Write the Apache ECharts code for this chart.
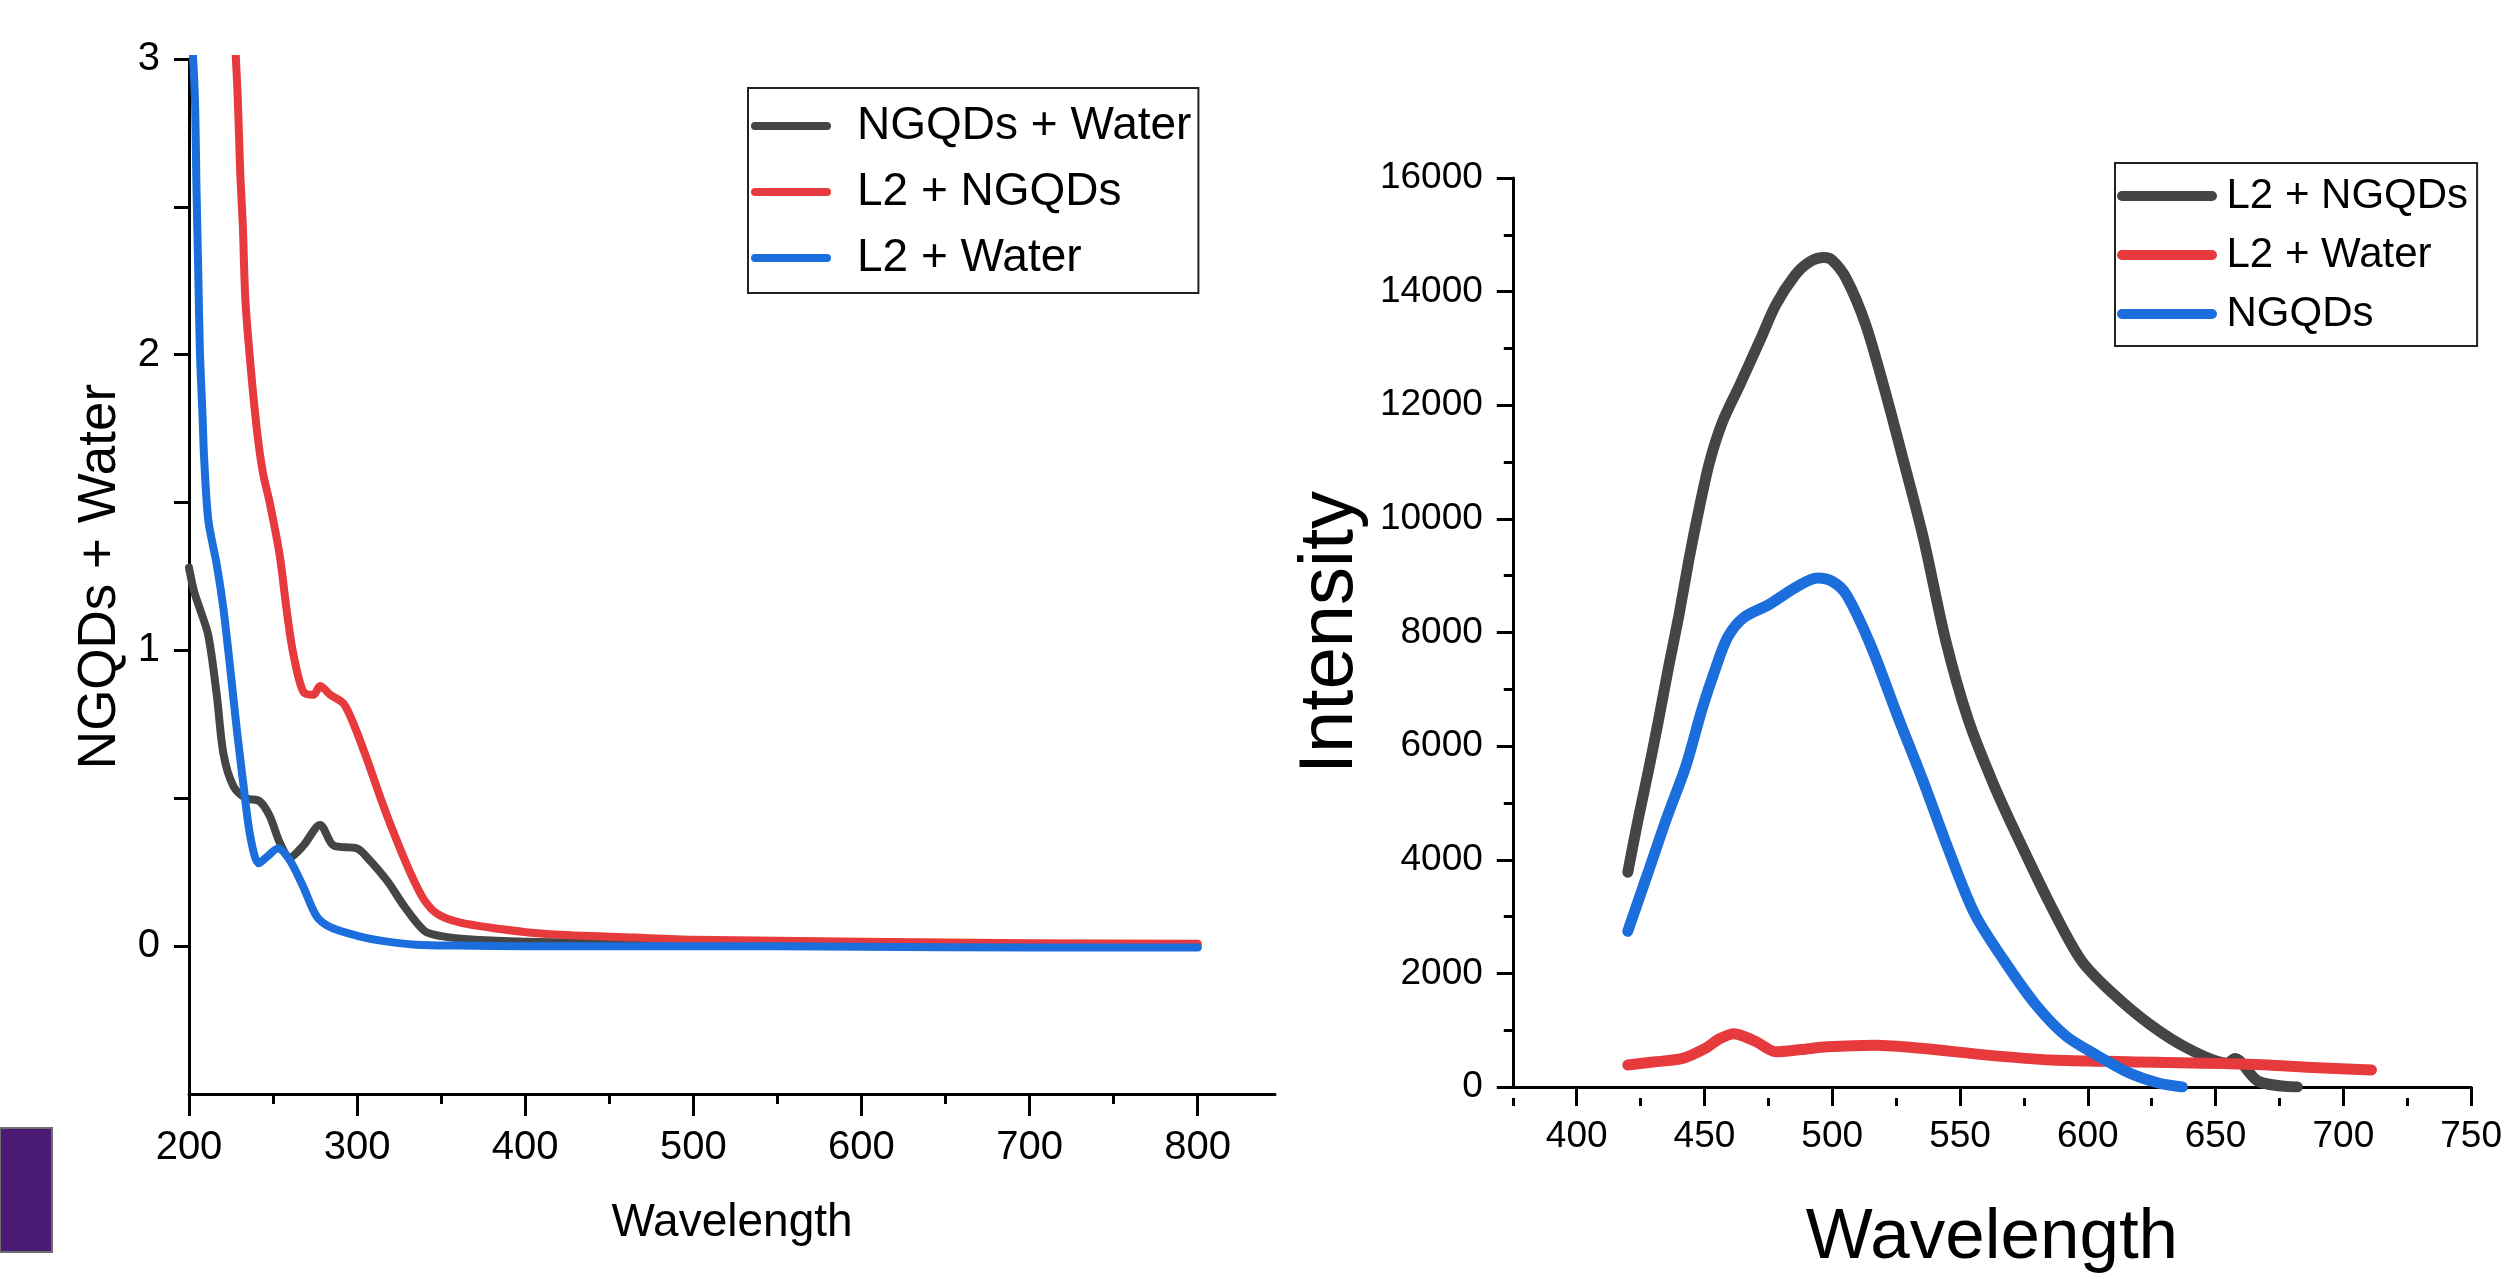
<!DOCTYPE html>
<html>
<head>
<meta charset="utf-8">
<title>NGQDs</title>
<script src="https://cdn.jsdelivr.net/npm/echarts@6/dist/echarts.min.js"></script>
<style>
    html, body { margin: 0; padding: 0; background: #fff; }
    #uv { position: absolute; left: 0; top: 0; width: 1285px; height: 1279px; }
    #pl { position: absolute; left: 1285px; top: 0; width: 1220px; height: 1279px; }
</style>
</head>
<body>
<div id="uv"></div>
<div id="pl"></div>
<script>
// left panel (absorbance)
var uvNgqdsWaterX = [200, 203, 206.5, 211.5, 216.5, 220.5, 226.5, 234, 242, 248, 254, 260, 268, 278, 286, 300, 306, 318, 328, 340, 350, 370, 400, 450, 500, 600, 700, 800];
var uvNgqdsWaterY = [1.28, 1.2, 1.14, 1.05, 0.85, 0.65, 0.54, 0.5, 0.49, 0.44, 0.35, 0.3, 0.34, 0.41, 0.34, 0.33, 0.3, 0.22, 0.135, 0.052, 0.034, 0.022, 0.015, 0.01, 0.006, 0.004, 0.002, 0];

var uvL2NgqdsX = [227, 229, 230.5, 232, 233.5, 236.5, 240.5, 244, 248, 254, 258, 262, 268, 274, 278, 284, 292, 298, 306, 314, 322, 331.5, 339.5, 347.5, 361, 385, 415, 465, 500, 600, 700, 800];
var uvL2NgqdsY = [3.1, 2.87, 2.61, 2.44, 2.19, 1.97, 1.74, 1.6, 1.5, 1.32, 1.14, 0.99, 0.86, 0.85, 0.88, 0.85, 0.82, 0.75, 0.63, 0.5, 0.38, 0.25, 0.16, 0.11, 0.08, 0.058, 0.04, 0.029, 0.022, 0.015, 0.01, 0.008];

var uvL2WaterX = [202, 203.5, 204.5, 205.5, 206.5, 208, 209, 211.5, 216.5, 220.5, 224.5, 228.5, 232.5, 236.5, 241.5, 246, 253, 260, 268, 276, 284, 300, 316, 335, 360, 400, 500, 600, 700, 800];
var uvL2WaterY = [3.05, 2.87, 2.55, 2.28, 2.01, 1.8, 1.65, 1.44, 1.29, 1.14, 0.94, 0.73, 0.54, 0.37, 0.28, 0.3, 0.33, 0.29, 0.2, 0.1, 0.064, 0.035, 0.017, 0.005, 0.002, 0, 0, -0.002, -0.005, -0.005];

var uvXLabels = [200, 300, 400, 500, 600, 700, 800];
var uvXMinor = [250, 350, 450, 550, 650, 750];
var uvYLabels = [0, 1, 2, 3];
var uvYTicks = [0, 0.5, 1, 1.5, 2, 2.5, 3];

// right panel (emission)
var plL2NgqdsX = [420, 424, 428, 432, 436, 440, 444, 448, 452, 457, 464, 471.6, 477.9, 485.4, 491, 496.7, 500, 505.5, 513.1, 520.6, 528.1, 535.7, 544.4, 553.2, 563.3, 573.3, 585.8, 597.5, 609.5, 624.6, 639.7, 654.7, 657.5, 666.8, 682];
var plL2NgqdsY = [3780, 4700, 5550, 6450, 7400, 8300, 9300, 10200, 11000, 11700, 12375, 13129, 13765, 14286, 14520, 14600, 14552, 14229, 13418, 12260, 10985, 9654, 7858, 6469, 5311, 4326, 3168, 2225, 1658, 1091, 666, 420, 500, 99, 0];

var plL2WaterX = [420, 430, 441.5, 450.3, 456, 461.6, 466, 470.4, 477.9, 488, 498, 516.8, 535.7, 560.7, 585.8, 615.6, 660.8, 690, 711];
var plL2WaterY = [388, 440, 504, 678, 850, 938, 880, 794, 620, 660, 707, 735, 678, 561, 474, 445, 405, 340, 300];

var plNgqdsX = [420, 427.7, 435.2, 442.8, 449, 454.1, 459.1, 465.4, 475.4, 485.4, 494.2, 500, 505.5, 515, 525.6, 535.7, 545.7, 555.7, 567, 579.6, 591.4, 603.5, 615.6, 627.6, 637];
var plNgqdsY = [2740, 3747, 4731, 5658, 6643, 7338, 7917, 8264, 8495, 8786, 8959, 8900, 8669, 7780, 6527, 5368, 4152, 3052, 2241, 1450, 900, 560, 260, 70, 0];

var plXLabels = [400, 450, 500, 550, 600, 650, 700, 750];
var plXMinor = [375, 425, 475, 525, 575, 625, 675, 725];

var font = 'Liberation Sans, Arial, sans-serif';
var gray = '#454545', red = '#e63a3c', blue = '#1b6edc';
// 圆头粗线图例
var legendLine = 'path://M5,0 L95,0 A5,5 0 0 1 95,10 L5,10 A5,5 0 0 1 5,0 Z';

function zip(xs, ys) {
    var arr = [];
    for (var i = 0; i < xs.length; i++) {
        arr.push([xs[i], ys[i]]);
    };
    return arr;
};

function lineSeries(name, xs, ys, color, width) {
    return {
        name: name,
        type: 'line',
        data: zip(xs, ys),
        symbol: 'none',
        smooth: 0.3,
        xAxisIndex: 0,
        lineStyle: { color: color, width: width, cap: 'round', join: 'round' },
        itemStyle: { color: color }
    };
};

// 次刻度轴: 放在顶部再平移到底部, 刻度朝内 = 朝下
function minorAxis(min, max, ticks, len, gridH) {
    return {
        type: 'value',
        position: 'top',
        offset: -gridH,
        min: min,
        max: max,
        axisLine: { show: false, onZero: false },
        axisTick: { show: true, inside: true, length: len, lineStyle: tickLine, customValues: ticks },
        axisLabel: { show: false },
        splitLine: { show: false }
    };
};

var tickLine = { color: '#000', width: 3 };

// 左图
var uvChart = echarts.init(document.getElementById('uv'));
uvChart.setOption({
    animation: false,
    graphic: [{
        type: 'rect',
        shape: { x: 0, y: 1128, width: 52, height: 124 },
        style: { fill: '#4a1a74', stroke: '#6e6e6e', lineWidth: 2 }
    }],
    grid: { left: 189, right: 10, top: 59, bottom: 185 },
    legend: {
        orient: 'vertical',
        left: 748,
        top: 88,
        padding: [15, 7, 12, 3],
        itemGap: 20,
        itemWidth: 108,
        itemHeight: 8,
        icon: legendLine,
        borderColor: '#222',
        borderWidth: 2,
        selectedMode: false,
        textStyle: { fontSize: 46, lineHeight: 46, color: '#000', fontFamily: font, padding: [0, 0, 0, 7] },
        data: ['NGQDs + Water', 'L2 + NGQDs', 'L2 + Water']
    },
    xAxis: [{
        type: 'value',
        position: 'bottom',
        min: 200,
        max: 846,
        name: 'Wavelength',
        nameLocation: 'middle',
        nameGap: 106,
        nameTextStyle: { fontSize: 46, color: '#000', fontFamily: font },
        axisLine: { show: true, onZero: false, lineStyle: tickLine },
        axisTick: { show: true, length: 22, lineStyle: tickLine, customValues: uvXLabels },
        axisLabel: { fontSize: 40, color: '#000', fontFamily: font, margin: 34, customValues: uvXLabels },
        splitLine: { show: false }
    }, minorAxis(200, 846, uvXMinor, 10, 1035)],
    yAxis: {
        type: 'value',
        min: -0.5,
        max: 3,
        name: 'NGQDs + Water',
        nameLocation: 'middle',
        nameRotate: 90,
        nameGap: 51,
        nameTextStyle: { fontSize: 53, color: '#000', fontFamily: font },
        axisLine: { show: true, onZero: false, lineStyle: tickLine },
        axisTick: { show: true, length: 15, lineStyle: tickLine, customValues: uvYTicks },
        axisLabel: { fontSize: 40, color: '#000', fontFamily: font, margin: 29, customValues: uvYLabels },
        splitLine: { show: false }
    },
    series: [
        lineSeries('NGQDs + Water', uvNgqdsWaterX, uvNgqdsWaterY, gray, 8),
        lineSeries('L2 + NGQDs', uvL2NgqdsX, uvL2NgqdsY, red, 8),
        lineSeries('L2 + Water', uvL2WaterX, uvL2WaterY, blue, 8)
    ]
});

// 右图
var plChart = echarts.init(document.getElementById('pl'));
plChart.setOption({
    animation: false,
    grid: { left: 205, right: 17, top: 178, bottom: 181 },
    legend: {
        orient: 'vertical',
        left: 830,
        top: 163,
        padding: [12, 9, 11, 2],
        itemGap: 17,
        itemWidth: 101,
        itemHeight: 10,
        icon: legendLine,
        borderColor: '#222',
        borderWidth: 2,
        selectedMode: false,
        textStyle: { fontSize: 42, lineHeight: 42, color: '#000', fontFamily: font, padding: [0, 0, 0, 4] },
        data: ['L2 + NGQDs', 'L2 + Water', 'NGQDs']
    },
    xAxis: [{
        type: 'value',
        position: 'bottom',
        min: 375,
        max: 750,
        name: 'Wavelength',
        nameLocation: 'middle',
        nameGap: 116,
        nameTextStyle: { fontSize: 71, color: '#000', fontFamily: font },
        axisLine: { show: true, onZero: false, lineStyle: tickLine },
        axisTick: { show: true, length: 19, lineStyle: tickLine, customValues: plXLabels },
        axisLabel: { fontSize: 37, color: '#000', fontFamily: font, margin: 31, customValues: plXLabels },
        splitLine: { show: false }
    }, minorAxis(375, 750, plXMinor, 8, 920)],
    yAxis: {
        type: 'value',
        min: 0,
        max: 16000,
        interval: 2000,
        name: 'Intensity',
        nameLocation: 'middle',
        nameRotate: 90,
        nameGap: 123,
        nameTextStyle: { fontSize: 76, color: '#000', fontFamily: font },
        axisLine: { show: true, onZero: false, lineStyle: tickLine },
        axisTick: { show: true, length: 16, lineStyle: tickLine },
        minorTick: { show: true, splitNumber: 2, length: 9, lineStyle: tickLine },
        axisLabel: {
            fontSize: 37, color: '#000', fontFamily: font, margin: 30,
            formatter: function (v) { return String(v); }
        },
        splitLine: { show: false },
        minorSplitLine: { show: false }
    },
    series: [
        lineSeries('L2 + NGQDs', plL2NgqdsX, plL2NgqdsY, gray, 11),
        lineSeries('L2 + Water', plL2WaterX, plL2WaterY, red, 11),
        lineSeries('NGQDs', plNgqdsX, plNgqdsY, blue, 11)
    ]
});
</script>
</body>
</html>
